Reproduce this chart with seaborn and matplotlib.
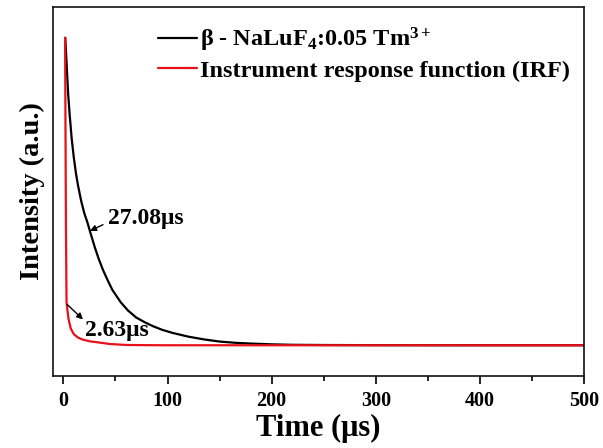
import numpy as np
import pandas as pd
import seaborn as sns
import matplotlib.pyplot as plt

# decay curves (time in us, normalised intensity)
t_sample = [1.8, 3, 4.5, 6, 8, 10, 12, 14, 17, 20, 23, 26, 30, 34, 38, 42,
            47, 55, 62, 70, 78, 86, 95, 105, 120, 135, 150, 165, 180, 200,
            220, 250, 300, 350, 400, 450, 500]
i_sample = [1.0, 0.92, 0.82, 0.75, 0.67, 0.61, 0.56, 0.52, 0.47, 0.43, 0.40,
            0.365, 0.32, 0.28, 0.245, 0.215, 0.18, 0.14, 0.113, 0.09, 0.075,
            0.062, 0.05, 0.04, 0.028, 0.019, 0.012, 0.008, 0.0055, 0.003,
            0.0015, 0.0008, 0.0003, 0.0001, 0.0, 0.0, 0.0]

t_irf = [1.6, 2.4, 3.0, 4.0, 5.0, 7.0, 10, 14, 18, 25, 34, 45, 60, 80, 100,
         200, 300, 400, 500]
i_irf = [1.0, 0.40, 0.14, 0.11, 0.084, 0.055, 0.036, 0.025, 0.019, 0.013,
         0.009, 0.004, 0.001, 0.0003, 0.0, 0.0, 0.0, 0.0, 0.0]

labels = [r"$\mathbf{\beta}$ - NaLuF$_\mathbf{4}$:0.05 Tm$^\mathbf{3+}$",
          "Instrument response function (IRF)"]
notes = ["27.08\u03bcs", "2.63\u03bcs"]

sns.set_style("ticks")
plt.rcParams['font.family'] = ['Liberation Serif', 'DejaVu Serif']
plt.rcParams['font.weight'] = 'bold'
plt.rcParams['text.color'] = 'black'
plt.rcParams['axes.labelcolor'] = 'black'
plt.rcParams['xtick.color'] = 'black'
plt.rcParams['mathtext.fontset'] = 'custom'
plt.rcParams['mathtext.rm'] = 'Liberation Serif:bold'
plt.rcParams['mathtext.bf'] = 'Liberation Serif:bold'
plt.rcParams['mathtext.it'] = 'Liberation Serif:bold:italic'

df1 = pd.DataFrame({'t': t_sample, 'I': i_sample})
df2 = pd.DataFrame({'t': t_irf, 'I': i_irf})

fig = plt.figure(figsize=(6.03, 4.48), dpi=100)
ax = fig.add_axes([0.0879, 0.1607, 0.8806, 0.8237])

sns.lineplot(data=df1, x='t', y='I', color='black', lw=1.6, ax=ax,
             label=labels[0])
sns.lineplot(data=df2, x='t', y='I', color='#e8101a', lw=1.6, ax=ax,
             label=labels[1])

ax.set_xlim(-10, 500)
ax.set_ylim(-0.1, 1.1)
ax.set_yticks([])
ax.set_xticks([0, 100, 200, 300, 400, 500])
ax.set_xticks([50, 150, 250, 350, 450], minor=True)
ax.tick_params(axis='x', which='major', direction='out', length=6, width=1.2,
               labelsize=14.5, pad=5)
ax.tick_params(axis='x', which='minor', direction='out', length=3.5, width=1.2)
for lab in ax.get_xticklabels():
    lab.set_fontweight('bold')
for s in ax.spines.values():
    s.set_linewidth(1.2)
    s.set_color('#111111')

ax.set_xlabel("Time (\u03bcs)", fontsize=22, fontweight='bold', labelpad=2)
ax.set_ylabel("Intensity (a.u.)", fontsize=20.5, fontweight='bold', labelpad=6)

# arrows + lifetimes
arr = dict(arrowstyle='-|>', color='black', lw=1.0, mutation_scale=9,
           shrinkA=0, shrinkB=0)
ax.annotate('', xy=(25.5, 0.372), xytext=(38, 0.392), arrowprops=arr)
ax.text(42.8, 0.393, notes[0], fontsize=17, fontweight='bold', va='baseline')
ax.annotate('', xy=(18.8, 0.084), xytext=(3.5, 0.133), arrowprops=arr)
ax.text(20.7, 0.029, notes[1], fontsize=17, fontweight='bold', va='baseline')

leg = ax.legend(loc='upper left', bbox_to_anchor=(0.198, 0.950), frameon=False,
                fontsize=17.5, handlelength=1.6, handletextpad=0.12,
                labelspacing=0.25, borderaxespad=0, borderpad=0)
for txt in leg.get_texts():
    txt.set_fontweight('bold')

fig.savefig('out.png', dpi=100)
